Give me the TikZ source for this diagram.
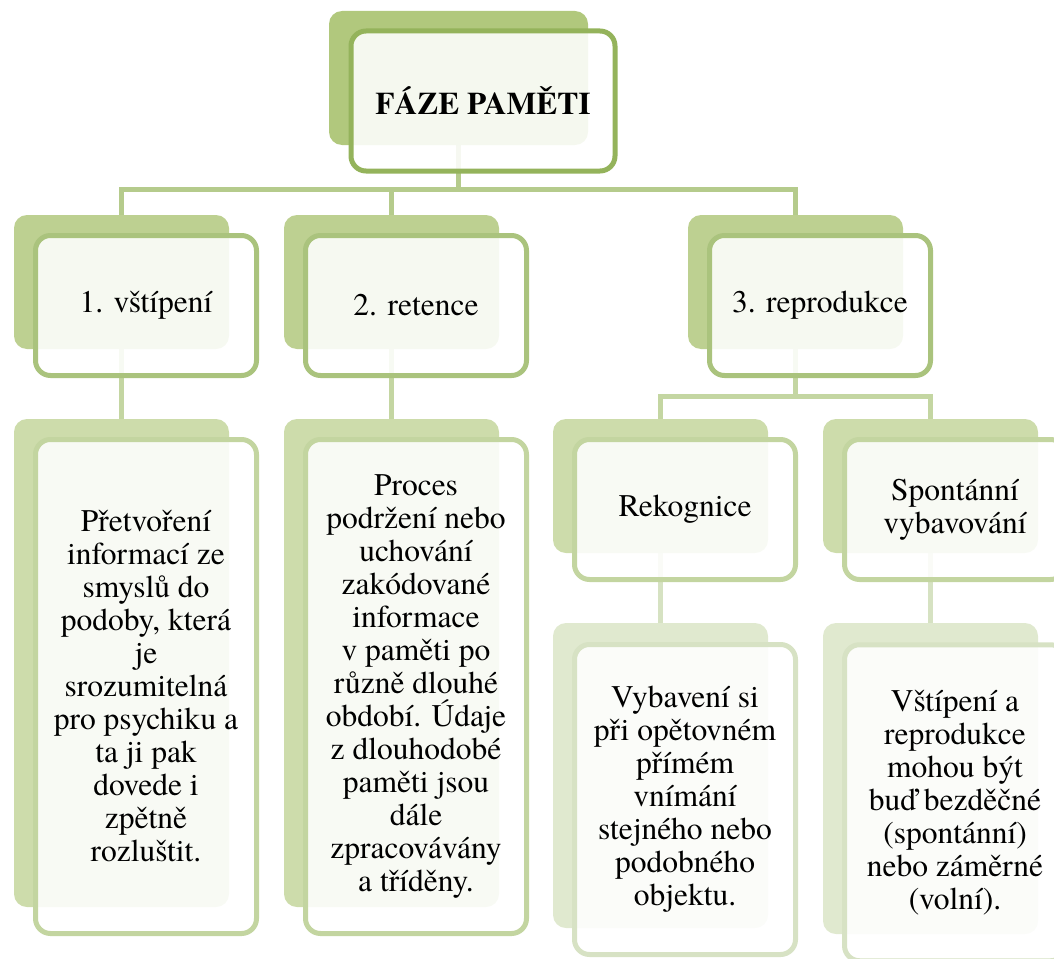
\documentclass[tikz,border=0pt]{standalone}
\usepackage{fontspec}
\setmainfont{texgyretermes}[Extension=.otf, UprightFont=*-regular, BoldFont=*-bold, ItalicFont=*-italic, BoldItalicFont=*-bolditalic]
\usetikzlibrary{backgrounds}
\definecolor{bk0}{RGB}{177,200,125}
\definecolor{bd0}{RGB}{148,179,91}
\definecolor{bk1}{RGB}{189,208,145}
\definecolor{bd1}{RGB}{170,195,125}
\definecolor{bk2}{RGB}{205,220,171}
\definecolor{bd2}{RGB}{195,213,160}
\definecolor{bk3}{RGB}{224,233,207}
\definecolor{bd3}{RGB}{215,226,196}
\definecolor{cn1}{RGB}{181,203,140}
\definecolor{cn2}{RGB}{196,214,162}
\definecolor{cn3}{RGB}{214,226,194}
\tikzset{
  backbox/.style={rectangle, rounded corners=13pt, inner sep=0pt, minimum width=215pt},
  frontbox/.style={rectangle, rounded corners=15pt, fill=white, fill opacity=0.88, text opacity=1,
    line width=5pt, inner sep=0pt, minimum width=221pt, align=center,
    font=\fontsize{31.5}{33}\selectfont},
  conn/.style={line width=5pt},
}
\begin{document}
\begin{tikzpicture}[x=1pt,y=-1pt]
\clip (0,0) rectangle (1054,958);
% back boxes
\node[backbox, fill=bk0, minimum width=259pt, minimum height=134pt] (topb) at (458.5,78) {};
\node[backbox, fill=bk1, minimum height=134pt] (Ab) at (121.5,282) {};
\node[backbox, fill=bk1, minimum height=134pt] (Bb) at (391.5,282) {};
\node[backbox, fill=bk1, minimum height=134pt] (Cb) at (795.5,282) {};
\node[backbox, fill=bk2, minimum height=488pt] (ATb) at (121.5,663) {};
\node[backbox, fill=bk2, minimum height=488pt] (BTb) at (391.5,663) {};
\node[backbox, fill=bk2, minimum height=134pt] (Rb) at (660.5,486) {};
\node[backbox, fill=bk2, minimum height=134pt] (Sb) at (930.5,486) {};
\node[backbox, fill=bk3, minimum height=305pt] (RTb) at (660.5,775.5) {};
\node[backbox, fill=bk3, minimum height=311pt] (STb) at (930.5,778.5) {};
% connectors (behind)
\begin{scope}[on background layer]
\draw[conn, cn1] (topb.south) -- ++(0,45);
\draw[conn, cn1] (Ab.north) -- ++(0,-25) -| (Cb.north);
\draw[conn, cn1] (Bb.north) -- ++(0,-25);
\draw[conn, cn2] (Ab.south) -- (ATb.north);
\draw[conn, cn2] (Bb.south) -- (BTb.north);
\draw[conn, cn2] (Cb.south) -- ++(0,48);
\draw[conn, cn2] (Rb.north) -- ++(0,-22) -| (Sb.north);
\draw[conn, cn3] (Rb.south) -- (RTb.north);
\draw[conn, cn3] (Sb.south) -- (STb.north);
\end{scope}
% front boxes
\node[frontbox, draw=bd0, minimum width=264pt, minimum height=140pt, font=\fontsize{31.5}{33}\selectfont\bfseries] (topf) at (483,101) {FÁZE PAMĚTI};
\node[frontbox, draw=bd1, minimum height=140pt] (Af) at (146,305.5) {1. vštípení};
\node[frontbox, draw=bd1, minimum height=140pt] (Bf) at (416,305.5) {2. retence};
\node[frontbox, draw=bd1, minimum height=140pt] (Cf) at (820,305.5) {3. reprodukce};
\node[frontbox, draw=bd2, minimum height=494pt] (ATf) at (146,686.5) {Přetvoření\\informací ze\\smyslů do\\podoby, která\\je\\srozumitelná\\pro psychiku a\\ta ji pak\\dovede i\\zpětně\\rozluštit.};
\node[frontbox, draw=bd2, minimum height=494pt] (BTf) at (416,686.5) {Proces\\podržení nebo\\uchování\\zakódované\\informace\\v paměti po\\různě dlouhé\\období. Údaje\\z dlouhodobé\\paměti jsou\\dále\\zpracovávány\\a tříděny.};
\node[frontbox, draw=bd2, minimum height=140pt] (Rf) at (685,509.5) {Rekognice};
\node[frontbox, draw=bd2, minimum height=140pt] (Sf) at (955,509.5) {Spontánní\\vybavování};
\node[frontbox, draw=bd3, minimum height=310pt] (RTf) at (685,799.5) {Vybavení si\\při opětovném\\přímém\\vnímání\\stejného nebo\\podobného\\objektu.};
\node[frontbox, draw=bd3, minimum height=316pt] (STf) at (955,802.75) {Vštípení a\\reprodukce\\mohou být\\buď bezděčné\\(spontánní)\\nebo záměrné\\(volní).};
\end{tikzpicture}
\end{document}
